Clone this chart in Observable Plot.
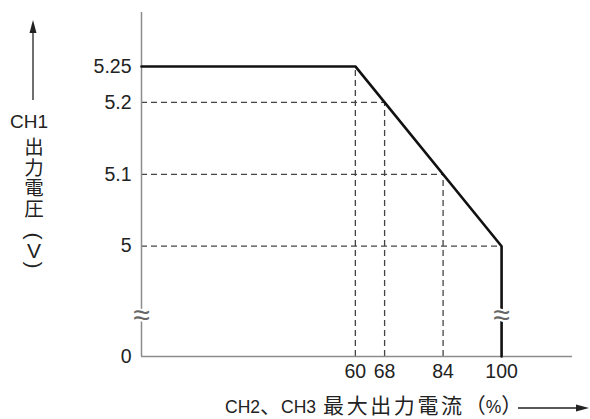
<!DOCTYPE html>
<html><head><meta charset="utf-8">
<script src="https://cdn.jsdelivr.net/npm/d3@7"></script>
<script src="https://cdn.jsdelivr.net/npm/@observablehq/plot@0.6"></script>
<style>body{margin:0;background:#fff}</style>
</head><body><div id="chart"></div>
<script>
// ---- data ----
const xTicks = [60, 68, 84, 100];
const yTicks = [0, 5, 5.1, 5.2, 5.25];
const xMin = 1.5, xMax = 119.4;          // axis extent (origin is not x=0)
const yTop = 5.325;                      // top of the (broken) y axis
const yBreak = 1.95;                     // where the axis break is drawn
const curveX = [xMin, 60, 100, 100];
const curveY = [5.25, 5.25, 5, 0];
const hGuideY = [5.2, 5.1, 5];           // dashed horizontal guides
const hGuideX = [68, 84, 100];
const vGuideX = [60, 68, 84];            // dashed vertical guides
const vGuideY = [5.25, 5.2, 5.1];
const yLabelTop = "CH1";
const yLabelCJK = "出力電圧";
const yLabelUnit = ["(", "V", ")"];
// x label pieces: [text, isCJK, dx]
const xLabelParts = [["CH2", false, 0], ["、", true, 0], ["CH3", false, 0], ["最大出力電流", true, 7], ["（", true, 0], ["%", false, 0], ["）", true, 0]];

const curve = curveX.map((x, i) => ({x, y: curveY[i]}));
const hGuides = hGuideY.map((y, i) => ({y, x: hGuideX[i]}));
const vGuides = vGuideX.map((x, i) => ({x, y: vGuideY[i]}));
const breaks = [{x: xMin, y: yBreak}, {x: 100, y: yBreak}];

const latin = "'Liberation Sans', Arial, sans-serif";
const cjk = "'Noto Sans CJK JP', 'Noto Sans CJK SC', sans-serif";
const axisColor = "#8c8c8c";
const dash = "6,4";

const svg = Plot.plot({
  width: 590, height: 419,
  marginLeft: 141, marginRight: 18, marginTop: 12, marginBottom: 63,
  style: {fontFamily: latin, fontSize: "19.5px", color: "#222", background: "#fff"},
  x: {domain: [xMin, xMax], ticks: xTicks, tickSize: 0, tickPadding: 8, label: null, tickFormat: d => String(d)},
  y: {type: "linear", domain: [0, 5, yTop], range: [356, 245.7, 12], ticks: yTicks, tickSize: 0, tickPadding: 10, label: null, tickFormat: d => String(d)},
  marks: [
    Plot.ruleY(hGuides, {y: "y", x1: xMin, x2: "x", stroke: "#444", strokeWidth: 1.3, strokeDasharray: dash}),
    Plot.ruleX(vGuides, {x: "x", y1: 0, y2: "y", stroke: "#444", strokeWidth: 1.3, strokeDasharray: dash}),
    Plot.ruleX([xMin], {y1: 0, y2: yTop, stroke: axisColor, strokeWidth: 1.5}),
    Plot.ruleY([0], {x1: xMin, x2: xMax, stroke: axisColor, strokeWidth: 1.5}),
    Plot.line(curve, {x: "x", y: "y", stroke: "#111", strokeWidth: 2.6}),
    Plot.text(breaks, {x: "x", y: "y", text: () => "≈", fontSize: 30, fontFamily: latin, fill: "#666", stroke: "white", strokeWidth: 4, paintOrder: "stroke", dy: 2})
  ]
});

const s = d3.select(svg);
const g = s.append("g").attr("fill", "#222").attr("text-anchor", "middle");
g.append("text").attr("x", 29).attr("y", 128).attr("font-family", latin).attr("font-size", 19).text(yLabelTop);
// vertical CJK label written top to bottom
g.append("text").attr("x", 34).attr("y", 137).attr("text-anchor", "start")
  .attr("font-family", cjk).attr("font-size", 19.5).attr("letter-spacing", 1)
  .style("writing-mode", "vertical-rl").text(yLabelCJK);
// unit "(V)" written vertically: parentheses turned a quarter
const unitY = [236, 250, 265];
yLabelUnit.forEach((c, i) => {
  const t = g.append("text").attr("font-family", latin).attr("font-size", 21)
    .attr("dominant-baseline", "central").text(c);
  if (c === "V") t.attr("x", 34).attr("y", unitY[i]);
  else t.attr("transform", `translate(34,${unitY[i]}) rotate(90)`);
});
const xl = s.append("text").attr("x", 225).attr("y", 413).attr("text-anchor", "start").attr("fill", "#222");
xLabelParts.forEach(([t, isCJK, dx]) => {
  const sp = xl.append("tspan").attr("font-family", isCJK ? cjk : latin).attr("font-size", isCJK ? 21 : 17.5).text(t);
  if (dx) sp.attr("dx", dx);
  if (t.length > 1 && isCJK) sp.attr("letter-spacing", 2.6);
});

// arrows
const a = s.append("g").attr("stroke", "#222").attr("fill", "#222");
a.append("line").attr("x1", 33).attr("y1", 100).attr("x2", 33).attr("y2", 30).attr("stroke-width", 1.3);
a.append("path").attr("d", "M33,20 L29.5,33 L36.5,33 Z").attr("stroke", "none");
a.append("line").attr("x1", 518).attr("y1", 408).attr("x2", 578).attr("y2", 408).attr("stroke-width", 1.3);
a.append("path").attr("d", "M589,408 L576,404.5 L576,411.5 Z").attr("stroke", "none");

document.getElementById("chart").appendChild(svg);
</script></body></html>
